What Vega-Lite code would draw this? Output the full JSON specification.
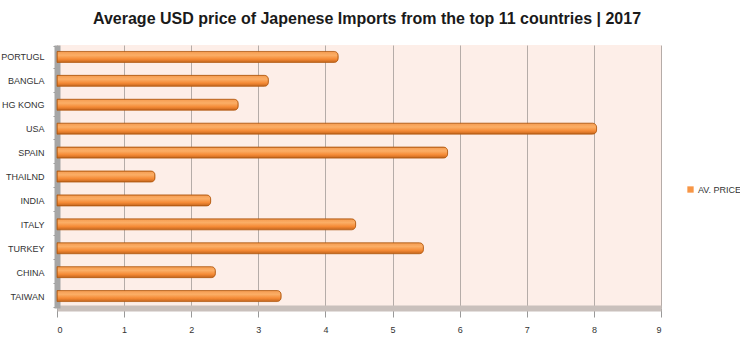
{
  "$schema": "https://vega.github.io/schema/vega-lite/v6.json",
  "width": 604,
  "height": 263,
  "autosize": {"type": "none"},
  "padding": {"left": 57, "top": 45, "right": 79, "bottom": 42},
  "background": "white",
  "title": {
    "text": "Average USD price of Japenese Imports from the top 11 countries | 2017",
    "font": "Liberation Sans",
    "fontSize": 16,
    "fontWeight": "bold",
    "color": "#1a1a1a",
    "offset": 14,
    "anchor": "middle",
    "dx": 8
  },
  "config": {"view": {"fill": "#FDEEE8", "stroke": null}},
  "data": {
    "values": [
      {"country": "PORTUGL", "price": 4.19},
      {"country": "BANGLA", "price": 3.15},
      {"country": "HG KONG", "price": 2.7},
      {"country": "USA", "price": 8.04},
      {"country": "SPAIN", "price": 5.82},
      {"country": "THAILND", "price": 1.46},
      {"country": "INDIA", "price": 2.29},
      {"country": "ITALY", "price": 4.45},
      {"country": "TURKEY", "price": 5.46},
      {"country": "CHINA", "price": 2.36},
      {"country": "TAIWAN", "price": 3.34}
    ]
  },
  "encoding": {
    "y": {
      "field": "country",
      "type": "nominal",
      "sort": null,
      "title": null,
      "axis": {
        "labelFont": "Liberation Sans",
        "labelFontSize": 9,
        "labelColor": "#333333",
        "labelPadding": 9,
        "tickBand": "extent",
        "tickSize": 4,
        "tickColor": "#999999",
        "domainColor": "#A6A6A6",
        "domainWidth": 6,
        "grid": false
      }
    },
    "x": {
      "field": "price",
      "type": "quantitative",
      "title": null,
      "scale": {"domain": [0, 9], "nice": false},
      "axis": {
        "values": [0, 1, 2, 3, 4, 5, 6, 7, 8, 9],
        "labelFont": "Liberation Sans",
        "labelFontSize": 9,
        "labelColor": "#333333",
        "domainColor": "#C9C0BC",
        "domainWidth": 6,
        "tickColor": "#999999",
        "tickSize": 9,
        "labelPadding": 8,
        "grid": true,
        "gridColor": "#B5ACA8",
        "gridWidth": 1
      }
    }
  },
  "layer": [
    {
      "mark": {"type": "bar", "height": 11, "cornerRadiusEnd": 4},
      "encoding": {
        "color": {
          "datum": "AV. PRICE",
          "type": "nominal",
          "scale": {"range": ["#F79646"]},
          "legend": {
            "title": null,
            "orient": "none",
            "legendX": 629,
            "legendY": 140,
            "symbolType": "square",
            "symbolSize": 40,
            "labelFont": "Liberation Sans",
            "labelFontSize": 9,
            "labelColor": "#333333",
            "labelOffset": 3
          }
        }
      }
    },
    {
      "mark": {
        "type": "bar",
        "height": 11,
        "cornerRadiusEnd": 4,
        "stroke": "#B35A12",
        "strokeWidth": 0.8,
        "color": {
          "gradient": "linear",
          "x1": 0, "y1": 0, "x2": 0, "y2": 1,
          "stops": [
            {"offset": 0, "color": "#F59B50"},
            {"offset": 0.35, "color": "#FBAE66"},
            {"offset": 0.7, "color": "#F58A35"},
            {"offset": 1, "color": "#C2641E"}
          ]
        }
      }
    }
  ]
}
